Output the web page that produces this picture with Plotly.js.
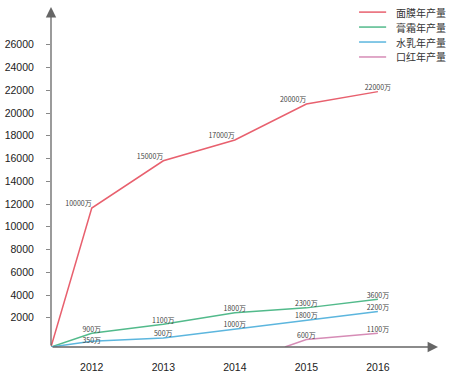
<!DOCTYPE html>
<html><head><meta charset="utf-8">
<script src="https://cdn.plot.ly/plotly-3.0.1.min.js"></script>
<style>html,body{margin:0;padding:0;background:#fff}#c{width:453px;height:377px}</style>
</head><body><div id="c"></div>
<script>
// categories
const years = [2012, 2013, 2014, 2015, 2016];
// where the lines start (the axis origin)
const originX = 2011.43;
const baseY = -570;
const lipStartX = 2014.70;
// series values as drawn (position)
const maskVals  = [11650, 15800, 17630, 20790, 21880];
const creamVals = [630, 1420, 2440, 2870, 3620];
const lotionVals = [-60, 230, 1000, 1800, 2560];
const lipYears = [2015, 2016];
const lipVals = [80, 633];
// data labels
const maskLbl  = ['10000万', '15000万', '17000万', '20000万', '22000万'];
const creamLbl = ['900万', '1100万', '1800万', '2300万', '3600万'];
const lotionLbl = ['350万', '500万', '1000万', '1800万', '2200万'];
const lipLbl = ['600万', '1100万'];
const names = ['面膜年产量', '膏霜年产量', '水乳年产量', '口红年产量'];
const yTicks = [2000,4000,6000,8000,10000,12000,14000,16000,18000,20000,22000,24000,26000];

const colors = ['#e8606e', '#52ba8b', '#5cb6de', '#d68cb6'];
const lblFont = {family: 'Noto Sans CJK SC, sans-serif', size: 7, color: '#444'};

function tr(xs, ys, lbl, name, color, pos) {
  return {type: 'scatter', mode: 'lines+text', x: xs, y: ys, text: lbl, name: name,
    textposition: pos, textfont: lblFont, cliponaxis: false,
    line: {color: color, width: 1.5}, hoverinfo: 'skip'};
}
const traces = [
  tr([originX].concat(years), [baseY].concat(maskVals), [''].concat(maskLbl), names[0], colors[0],
     ['top left','top left','top left','top left','top left','top center']),
  tr([originX].concat(years), [baseY].concat(creamVals), [''].concat(creamLbl), names[1], colors[1], 'top center'),
  tr([originX].concat(years), [baseY].concat(lotionVals), [''].concat(lotionLbl), names[2], colors[2],
     ['top center','middle center','top center','top center','top center','top center']),
  tr([lipStartX].concat(lipYears), [baseY].concat(lipVals), [''].concat(lipLbl), names[3], colors[3], 'top center')
];

const xMax = 2016.84, yMax = 29320;

// legend drawn as line samples + text (paper coordinates)
const shapes = [], annotations = [];
names.forEach((n, i) => {
  const yy = 0.985 - i * 0.044;
  shapes.push({type: 'line', xref: 'paper', yref: 'paper', x0: 0.796, x1: 0.866, y0: yy, y1: yy,
    line: {color: colors[i], width: 1.5}});
  annotations.push({xref: 'paper', yref: 'paper', x: 0.886, y: yy, xanchor: 'left', yanchor: 'middle',
    text: n, showarrow: false, font: {family: 'Noto Sans CJK SC, sans-serif', size: 10, color: '#333'}});
});
annotations.push(
  {x: xMax, y: baseY, ax: originX, ay: baseY, xref: 'x', yref: 'y', axref: 'x', ayref: 'y',
   text: '', showarrow: true, arrowhead: 2, arrowsize: 1.6, arrowwidth: 1.3, arrowcolor: '#666'},
  {x: originX, y: yMax, ax: originX, ay: baseY, xref: 'x', yref: 'y', axref: 'x', ayref: 'y',
   text: '', showarrow: true, arrowhead: 2, arrowsize: 1.6, arrowwidth: 1.3, arrowcolor: '#666'}
);

const layout = {
  width: 453, height: 377,
  margin: {l: 51, r: 15, t: 7, b: 30},
  paper_bgcolor: '#fff', plot_bgcolor: '#fff',
  showlegend: false,
  xaxis: {range: [originX, xMax], tickvals: years, ticktext: years.map(String),
    showgrid: false, zeroline: false, showline: false, ticks: '', ticklabelstandoff: 12,
    tickfont: {family: 'Liberation Sans, Arial, sans-serif', size: 10.5, color: '#222'}},
  yaxis: {range: [baseY, yMax], tickvals: yTicks, tickformat: 'd', showgrid: false, zeroline: false, showline: false,
    ticks: 'outside', ticklen: 4, tickcolor: '#888', tickwidth: 1, ticklabelstandoff: 10,
    tickfont: {family: 'Liberation Sans, Arial, sans-serif', size: 10.5, color: '#222'}},
  shapes: shapes,
  annotations: annotations
};
Plotly.newPlot('c', traces, layout, {displayModeBar: false, staticPlot: true});
</script></body></html>
